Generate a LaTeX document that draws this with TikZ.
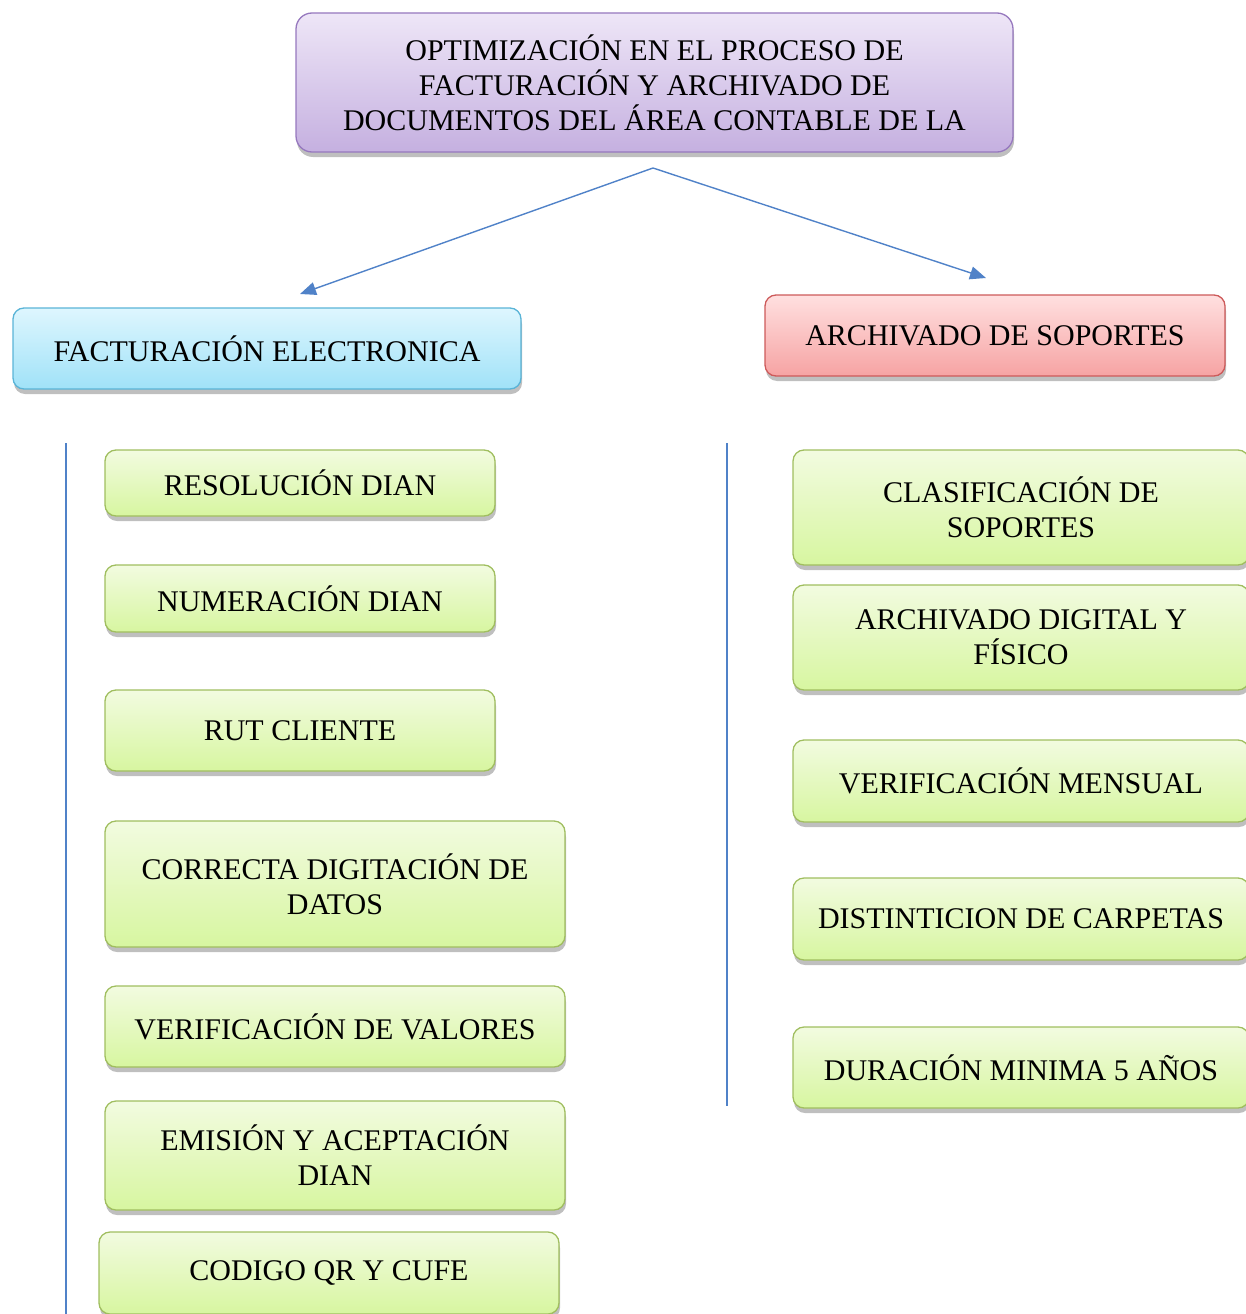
\documentclass[tikz,border=0pt]{standalone}
\usepackage{fontspec}
\setmainfont{Liberation Serif}
\usetikzlibrary{shadows,arrows.meta}

\begin{document}
\begin{tikzpicture}[%
x=1pt, y=-1pt,
box/.style={rounded corners=11pt, line width=1.3pt, align=center, inner sep=0pt,
  font=\fontsize{30}{35}\selectfont,
  drop shadow={shadow xshift=1pt, shadow yshift=-5pt, opacity=0.25, fill=black}},
greenbox/.style={box, draw={rgb,255:red,160;green,190;blue,95},
  top color={rgb,255:red,242;green,251;blue,224}, bottom color={rgb,255:red,215;green,246;blue,160}},
link/.style={color={rgb,255:red,80;green,130;blue,200}, line width=1.4pt},
]
\useasboundingbox (0,0) rectangle (1246,1314);
\clip (0,0) rectangle (1246,1314);
%% title;
\node [box, rounded corners=16pt, minimum width=717pt, minimum height=139pt,
  draw={rgb,255:red,150;green,120;blue,190},
  top color={rgb,255:red,238;green,230;blue,247}, bottom color={rgb,255:red,197;green,176;blue,224}]
  (titulo) at (654.5,82.5) {OPTIMIZACIÓN EN EL PROCESO DE\\FACTURACIÓN Y ARCHIVADO DE\\DOCUMENTOS DEL ÁREA CONTABLE DE LA};
%% branches;
\node [box, minimum width=508pt, minimum height=81pt,
  draw={rgb,255:red,90;green,180;blue,215},
  top color={rgb,255:red,222;green,246;blue,254}, bottom color={rgb,255:red,160;green,226;blue,248}]
  (facturacion) at (267,348.5) {FACTURACIÓN ELECTRONICA};
\node [box, minimum width=460pt, minimum height=81pt,
  draw={rgb,255:red,205;green,90;blue,90},
  top color={rgb,255:red,255;green,224;blue,224}, bottom color={rgb,255:red,246;green,163;blue,163}]
  (archivado) at (995,335.5) {ARCHIVADO DE SOPORTES};
%% arrows;
\coordinate (split) at (653,168);
\coordinate (facTip) at (300,294);
\coordinate (arcTip) at (986,278);
\draw [link, -{Triangle[length=16pt, width=13pt]}] (split) -- (facTip);
\draw [link, -{Triangle[length=16pt, width=13pt]}] (split) -- (arcTip);
%% rails;
\coordinate (facTop) at (66,443);
\coordinate (facEnd) at (66,1320);
\coordinate (arcTop) at (727,443);
\coordinate (arcEnd) at (727,1106);
\draw [link] (facTop) -- (facEnd);
\draw [link] (arcTop) -- (arcEnd);
%% left items;
\node [greenbox, minimum width=390pt, minimum height=66pt] (resolucion) at (300,483) {RESOLUCIÓN DIAN};
\node [greenbox, minimum width=390pt, minimum height=67pt] (numeracion) at (300,598.5) {NUMERACIÓN DIAN};
\node [greenbox, minimum width=390pt, minimum height=81pt] (rut) at (300,730.5) {RUT CLIENTE};
\node [greenbox, minimum width=460pt, minimum height=126pt] (digitacion) at (335,884) {CORRECTA DIGITACIÓN DE\\DATOS};
\node [greenbox, minimum width=460pt, minimum height=81pt] (valores) at (335,1026.5) {VERIFICACIÓN DE VALORES};
\node [greenbox, minimum width=460pt, minimum height=109pt] (emision) at (335,1155.5) {EMISIÓN Y ACEPTACIÓN\\DIAN};
\node [greenbox, minimum width=460pt, minimum height=82pt] (codigo) at (329,1273) {CODIGO QR Y CUFE};
%% right items;
\node [greenbox, minimum width=456pt, minimum height=115pt] (clasificacion) at (1021,507.5) {CLASIFICACIÓN DE\\SOPORTES};
\node [greenbox, minimum width=456pt, minimum height=105pt] (digital) at (1021,637.5) {ARCHIVADO DIGITAL Y\\FÍSICO};
\node [greenbox, minimum width=456pt, minimum height=82pt] (mensual) at (1021,781) {VERIFICACIÓN MENSUAL};
\node [greenbox, minimum width=456pt, minimum height=82pt] (carpetas) at (1021,919) {DISTINTICION DE CARPETAS};
\node [greenbox, minimum width=456pt, minimum height=81pt] (duracion) at (1021,1067.5) {DURACIÓN MINIMA 5 AÑOS};
\end{tikzpicture}
\end{document}
